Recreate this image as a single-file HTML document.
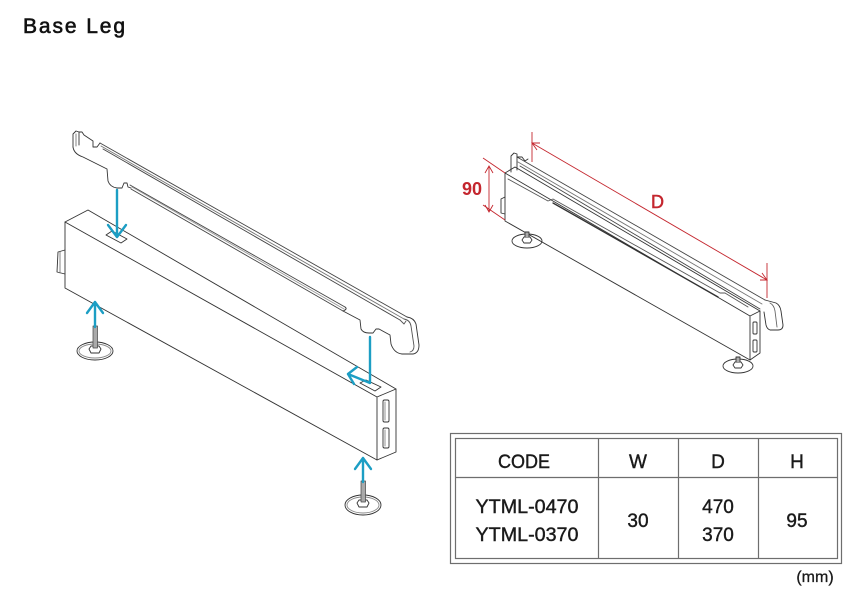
<!DOCTYPE html>
<html>
<head>
<meta charset="utf-8">
<style>
  html, body { margin:0; padding:0; background:#ffffff; }
  body { width:859px; height:600px; overflow:hidden; }
  svg { display:block; }
  text { font-family:"Liberation Sans", "DejaVu Sans", sans-serif; }
</style>
</head>
<body>
<svg width="859" height="600" viewBox="0 0 859 600" xmlns="http://www.w3.org/2000/svg">
  <!-- Title -->
  <text x="23" y="33" font-size="21" fill="#111" stroke="#111" stroke-width="0.6" letter-spacing="1.9">Base Leg</text>

  <!-- ================= LEFT DRAWING ================= -->
  <g fill="none" stroke="#333" stroke-width="0.9" stroke-linejoin="round" stroke-linecap="round">
    <!-- Rail plate: top long edges -->
    <path d="M100,143 L407,317" stroke="#444"/>
    <path d="M101,146 L404,319" stroke="#777"/>
    <path d="M103,149 L400,320" stroke="#444"/>
    <!-- left hook -->
    <path d="M73,147 L73,134 L76,131 L79,132 L79,145 M79,132 L82,132 L84,135 L93,141 L93,147 L97,147 L100,143"/>
    <path d="M76,134 L76,146" stroke="#777"/>
    <!-- left edge & lower edge with notch -->
    <path d="M73,147 Q74,154 83,157 L107,169 L108,181 Q110,187 117,188 L122,188 L124,183 L127,183 L128,187 L131,188"/>
    <!-- inner lower rail -->
    <path d="M130,185 L345,307" stroke="#444"/>
    <path d="M131,189 L343,311" stroke="#444"/>
    <path d="M132,187 L344,309" stroke="#999"/>
    <path d="M345,307 Q348,309 343,311"/>
    <!-- lower edge to notch at right -->
    <path d="M343,311 L360,320 L361,329 Q363,333 369,333 L373,333 L376,329 L379,329 L390,335 L391,344 Q394,353 402,354 L413,354 Q419,353 419,345 L416,324 Q414,318 407,317"/>
    <!-- right end double edge -->
    <path d="M404,319 Q410,320 411,326 L414,346 Q414,351 410,352" stroke="#555"/>
    <path d="M400,320 L404,324 L406,321" stroke="#555"/>

    <!-- Box -->
    <path d="M65,222 L88,210 L396,389 L396,452 L377,460 L65,288 Z"/>
    <path d="M65,222 L377,397 L396,389 M377,397 L377,460"/>
    <!-- left side tab -->
    <path d="M65,250 L58,252 L57,272 L65,274"/>
    <path d="M60,252 L60,273" stroke="#777"/>
    <!-- slot on top left -->
    <path d="M106,235 L112,231 L127,239 L121,243 Z"/>
    <!-- slot on top right -->
    <path d="M360,383 L366,380 L381,387 L375,391 Z"/>
    <!-- end face slots -->
    <rect x="383" y="400" width="6" height="22" rx="1.5"/>
    <rect x="383" y="428" width="6" height="20" rx="1.5"/>
    <path d="M385,402 L385,420 M385,430 L385,446" stroke="#888"/>

    <!-- Left foot -->
    <ellipse cx="95" cy="351" rx="18" ry="9"/>
    <ellipse cx="95" cy="351" rx="16" ry="7" stroke="#888"/>
    <path d="M89,349 L91,346 L99,346 L101,349 L99,353 L91,353 Z"/>
    <rect x="93" y="326" width="4.5" height="22" fill="#aaa" stroke="#444" stroke-width="0.7"/>
    <!-- Right foot -->
    <ellipse cx="363" cy="505" rx="18" ry="10"/>
    <ellipse cx="363" cy="505" rx="16" ry="8" stroke="#888"/>
    <path d="M357,503 L359,500 L367,500 L369,503 L367,507 L359,507 Z"/>
    <rect x="361" y="481" width="4.5" height="21" fill="#aaa" stroke="#444" stroke-width="0.7"/>
  </g>

  <!-- Blue arrows -->
  <g fill="none" stroke="#1c9ec4" stroke-width="2.4" stroke-linecap="round" stroke-linejoin="round">
    <path d="M117,190 L117,237 M108,225 L117,237 L126,225"/>
    <path d="M370,337 L370,383 L348,374 M357,367 L348,374 L354,384"/>
    <path d="M95,327 L95,302 M87,313 L95,302 L103,313"/>
    <path d="M363,482 L363,458 M355,469 L363,458 L371,469"/>
  </g>

  <!-- ================= RIGHT DRAWING ================= -->
  <g fill="none" stroke="#333" stroke-width="0.9" stroke-linejoin="round" stroke-linecap="round">
    <!-- rail top edges -->
    <path d="M517,157 L765,300" stroke="#444"/>
    <path d="M518,162 L762,304" stroke="#777"/>
    <path d="M520,166 L760,309" stroke="#444"/>
    <!-- hook -->
    <path d="M511,172 L511,156 L514,153 L517,154 L517,170 M517,157 L522,157 L525,161 L528,159"/>
    <!-- rail right end -->
    <path d="M765,300 L776,303 Q780,305 781,311 L783,325 Q783,330 778,330 L770,330 Q767,329 766,325 L764,312"/>
    <path d="M770,303 Q774,305 775,311 L777,327" stroke="#666"/>
    <!-- Box -->
    <path d="M505,173 L515,167 L760,311 L760,353 L750,360 L505,221 Z"/>
    <path d="M505,173 L750,316 L760,311 M750,316 L750,360"/>
    <!-- front groove -->
    <path d="M508,179 L548,201 L553,199 L720,293 L725,293 L748,307" stroke="#555"/>
    <path d="M553,203 L718,297" stroke="#333" stroke-width="1.3"/>
    <!-- left tab -->
    <path d="M505,197 L501,199 L501,213 L505,214"/>
    <!-- end face slots -->
    <rect x="753" y="322" width="4" height="12" rx="1"/>
    <rect x="753" y="340" width="4" height="12" rx="1"/>
    <!-- feet -->
    <ellipse cx="527" cy="241" rx="15" ry="7"/>
    <path d="M522,240 L524,237 L530,237 L532,240 L530,243 L524,243 Z"/>
    <path d="M525,237 L525,232 L529,232 L529,237" fill="#aaa"/>
    <ellipse cx="738" cy="366" rx="15" ry="7"/>
    <path d="M733,365 L735,362 L741,362 L743,365 L741,368 L735,368 Z"/>
    <path d="M736,362 L736,357 L740,357 L740,362" fill="#aaa"/>
  </g>

  <!-- Dimensions (red) -->
  <g fill="none" stroke="#c4262e" stroke-width="0.9">
    <!-- 90 -->
    <path d="M483,158 L505,173"/>
    <path d="M483,205 L505,220"/>
    <path d="M489,166 L489,212"/>
    <path d="M485,173 L489,166 L493,173"/>
    <path d="M485,205 L489,212 L493,205"/>
    <!-- D -->
    <path d="M532,132 L532,162"/>
    <path d="M767,263 L767,298"/>
    <path d="M532,143 L767,280"/>
    <path d="M540,143 L532,143 L537,150"/>
    <path d="M760,280 L767,280 L762,273"/>
  </g>
  <text x="462" y="195" font-size="18" font-weight="bold" fill="#c4262e">90</text>
  <text x="651" y="208" font-size="18" fill="#c4262e" stroke="#c4262e" stroke-width="0.5">D</text>

  <!-- ================= TABLE ================= -->
  <g fill="none" stroke="#6e6e6e" stroke-width="1.2">
    <rect x="450.5" y="433.5" width="391" height="130"/>
    <rect x="455.5" y="438.5" width="382" height="120"/>
    <path d="M455,477.5 L838,477.5"/>
    <path d="M598.5,438 L598.5,559 M678.5,438 L678.5,559 M758.5,438 L758.5,559"/>
  </g>
  <g fill="#1a1a1a" stroke="#1a1a1a" stroke-width="0.4" font-size="19" text-anchor="middle">
    <text x="524" y="468" textLength="52" lengthAdjust="spacingAndGlyphs">CODE</text>
    <text x="638" y="468">W</text>
    <text x="718" y="468">D</text>
    <text x="797" y="468">H</text>
    <text x="527" y="513" textLength="103" lengthAdjust="spacingAndGlyphs">YTML-0470</text>
    <text x="527" y="541" textLength="103" lengthAdjust="spacingAndGlyphs">YTML-0370</text>
    <text x="638" y="527">30</text>
    <text x="718" y="513">470</text>
    <text x="718" y="541">370</text>
    <text x="797" y="527">95</text>
  </g>
  <text x="815" y="582" font-size="16" fill="#1a1a1a" stroke="#1a1a1a" stroke-width="0.3" text-anchor="middle">(mm)</text>
</svg>
</body>
</html>
